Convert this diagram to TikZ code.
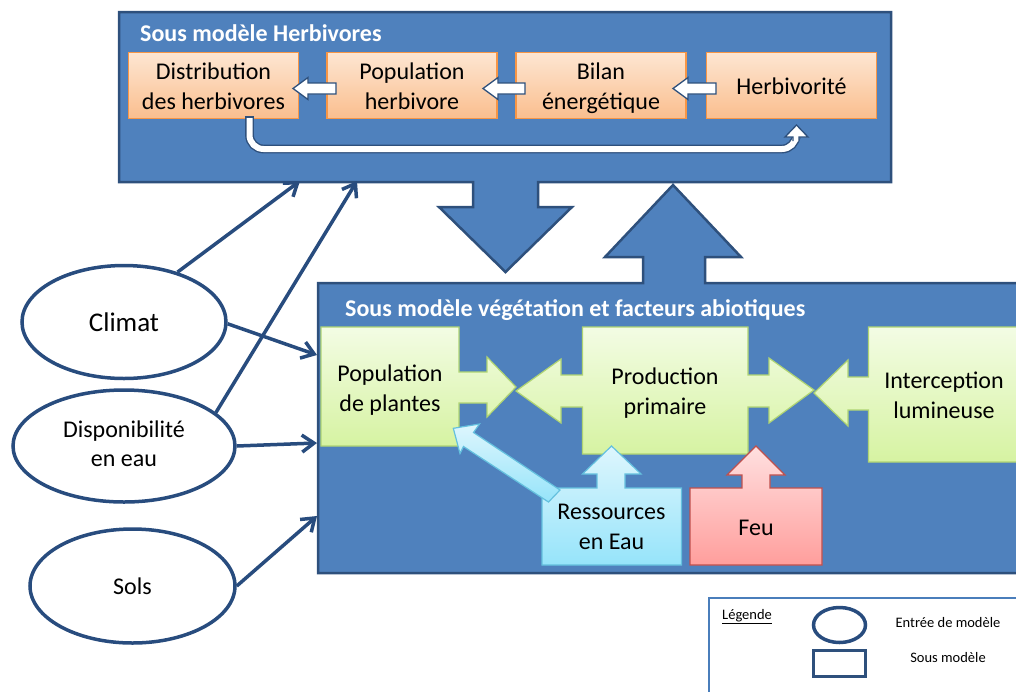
\documentclass[tikz,border=0pt]{standalone}
\usepackage{fontspec}
\setmainfont{Carlito}
\usetikzlibrary{shapes.geometric,arrows.meta,calc}
\definecolor{boxblue}{RGB}{79,129,189}
\definecolor{boxedge}{RGB}{46,80,124}
\definecolor{arrblue}{RGB}{40,76,126}
\definecolor{legblue}{RGB}{74,126,187}
\definecolor{orgtop}{RGB}{253,230,210}
\definecolor{orgbot}{RGB}{250,190,142}
\definecolor{orgedge}{RGB}{247,150,70}
\definecolor{grntop}{RGB}{243,252,228}
\definecolor{grnbot}{RGB}{214,243,162}
\definecolor{grnedge}{RGB}{175,212,115}
\definecolor{cyntop}{RGB}{222,246,253}
\definecolor{cynbot}{RGB}{150,228,250}
\definecolor{cynedge}{RGB}{100,192,222}
\definecolor{redtop}{RGB}{255,224,224}
\definecolor{redbot}{RGB}{255,158,156}
\definecolor{rededge}{RGB}{192,80,77}
\newcommand\wharrow[3]{%
  \draw[wharr] (#1,#3) -- (#1+15,#3-11) -- (#1+15,#3-5.5) -- (#2,#3-5.5) -- (#2,#3+5.5) -- (#1+15,#3+5.5) -- (#1+15,#3+11) -- cycle;}
\begin{document}
\begin{tikzpicture}[x=1pt,y=-1pt,
  submodel/.style={fill=boxblue, draw=boxedge, line width=2.5pt, line join=miter},
  titletext/.style={text=white, font=\fontsize{24}{29}\selectfont\bfseries, inner sep=0pt},
  orangebox/.style={draw=orgedge, line width=1.2pt, top color=orgtop, bottom color=orgbot,
     minimum width=170pt, minimum height=66pt},
  wharr/.style={fill=white, draw=boxedge, line width=1.3pt, line join=miter},
  greenshape/.style={draw=grnedge, line width=1.2pt, top color=grntop, bottom color=grnbot, line join=miter},
  cyanshape/.style={draw=cynedge, line width=1.2pt, top color=cyntop, bottom color=cynbot, line join=miter},
  redshape/.style={draw=rededge, line width=1.2pt, top color=redtop, bottom color=redbot, line join=miter},
  lbl/.style={align=center, inner sep=0pt, font=\fontsize{24}{30}\selectfont},
  inputell/.style={ellipse, draw=arrblue, line width=3.5pt, fill=white, inner sep=0pt, align=center,
     font=\fontsize{24}{29}\selectfont},
  inarr/.style={draw=arrblue, line width=3.5pt, -{Straight Barb[length=12pt,width=17pt]}},
  legtext/.style={font=\fontsize{14.5}{17}\selectfont, inner sep=0pt}
]
\useasboundingbox (0,0) rectangle (1016,691);
\clip (0,0) rectangle (1016,691);

% sub-models with their big arrows
\draw[submodel] (119,12) -- (891,12) -- (891,182) -- (538,182) -- (538,207) -- (572,207) -- (505.5,272)
   -- (439,207) -- (473,207) -- (473,182) -- (119,182) -- cycle;
\draw[submodel] (318,283) -- (643,283) -- (643,257) -- (605,257) -- (673,185) -- (741,257) -- (705,257)
   -- (705,283) -- (1030,283) -- (1030,573) -- (318,573) -- cycle;

\node[titletext, anchor=base west] (t1) at (140,41) {Sous modèle Herbivores};
\node[titletext, anchor=base west] (t2) at (345,316) {Sous modèle végétation et facteurs abiotiques};

% herbivore sub-model
\node[orangebox] (dist) at (213.5,85.5) {};
\node[orangebox] (popherb) at (412,85.5) {};
\node[orangebox] (bilan) at (601,85.5) {};
\node[orangebox] (herb) at (791.5,85.5) {};
\node[lbl] (distt) at (213.5,88.5) {Distribution\strut\\des herbivores\strut};
\node[lbl] (popherbt) at (412,88.5) {Population\strut\\herbivore\strut};
\node[lbl] (bilant) at (601,88.5) {Bilan\strut\\énergétique\strut};
\node[lbl] (herbt) at (791.5,88.5) {Herbivorité\strut};

\wharrow{293}{336}{88.5}
\wharrow{483}{525}{88.5}
\wharrow{673}{716}{88.5}

\draw[draw=boxedge, line width=1.4pt, double=white, double distance=6pt, rounded corners=14pt]
  (249.5,117) -- (249.5,149) -- (796,149) -- (796,139);
\draw[boxedge, line width=1.4pt] (244.8,117) -- (254.2,117);
\filldraw[wharr] (799,141) -- (799,137) -- (808,137) -- (796.5,125) -- (785,137) -- (793,137) -- (793,141);

% vegetation sub-model
\draw[greenshape] (321,327) -- (459,327) -- (459,372) -- (487,372) -- (487,357) -- (516,387) -- (487,417)
   -- (487,403) -- (459,403) -- (459,446) -- (321,446) -- cycle;
\draw[greenshape] (582.5,327) -- (748,327) -- (748,375) -- (769,375) -- (769,358) -- (814,390) -- (769,423)
   -- (769,407) -- (748,407) -- (748,454) -- (582.5,454) -- (582.5,407) -- (561,407) -- (561,423)
   -- (516,391) -- (561,359) -- (561,375) -- (582.5,375) -- cycle;
\draw[greenshape] (868.5,327) -- (1030,327) -- (1030,462) -- (868.5,462) -- (868.5,410) -- (848,410)
   -- (848,426) -- (814,393) -- (848,360) -- (848,377) -- (868.5,377) -- cycle;
\draw[cyanshape] (542,488) -- (597,488) -- (597,474) -- (582.5,474) -- (611.5,446) -- (641,474) -- (625,474)
   -- (625,488) -- (681.5,488) -- (681.5,565) -- (542,565) -- cycle;
\draw[redshape] (690,488) -- (742,488) -- (742,475) -- (727,475) -- (756,446) -- (785,475) -- (770,475)
   -- (770,488) -- (822,488) -- (822,565) -- (690,565) -- cycle;
\draw[cyanshape] (453.3,428.3) -- (479.5,424) -- (473.5,432.5) -- (560,490) -- (548.5,502) -- (463.5,446.5)
   -- (460,453.5) -- cycle;

\node[lbl] (plantes) at (390,390) {Population\strut\\de plantes\strut};
\node[lbl] (prod) at (665,393) {Production\strut\\primaire\strut};
\node[lbl] (interc) at (944,397) {Interception\strut\\lumineuse\strut};
\node[lbl] (eau) at (611.5,528) {Ressources\strut\\en Eau\strut};
\node[lbl] (feu) at (756,529) {Feu\strut};

% model inputs
\node[inputell, minimum width=204pt, minimum height=113pt, font=\fontsize{27}{32}\selectfont] (climat) at (124,322) {Climat};
\node[inputell, minimum width=222pt, minimum height=112pt] (dispo) at (124,446) {Disponibilité\strut\\en eau\strut};
\node[inputell, minimum width=205pt, minimum height=114pt] (sols) at (132.5,586) {Sols};

\coordinate (e1) at (300,181);
\coordinate (e2) at (357,181);
\coordinate (e3) at (317,355);
\coordinate (e4) at (317,443);
\coordinate (e5) at (317,516);
\draw[inarr] (climat.43) -- (e1);
\draw[inarr] (dispo.20) -- (e2);
\draw[inarr] (climat.-1) -- (e3);
\draw[inarr] (dispo.0) -- (e4);
\draw[inarr] (sols.0) -- (e5);

% legend
\draw[draw=legblue, line width=2pt, fill=white] (709,598) rectangle (1030,705);
\node[legtext, anchor=base west] (leg) at (722,619) {\underline{Légende}};
\node[ellipse, draw=arrblue, line width=3.5pt, minimum width=52pt, minimum height=35pt, inner sep=0pt] (legell) at (839.5,625) {};
\node[draw=boxedge, line width=3.5pt, minimum width=52pt, minimum height=26pt, inner sep=0pt] (legrect) at (839.5,663.5) {};
\node[legtext] (legt1) at (948,623) {Entrée de modèle};
\node[legtext] (legt2) at (948,658) {Sous modèle};
\end{tikzpicture}
\end{document}
